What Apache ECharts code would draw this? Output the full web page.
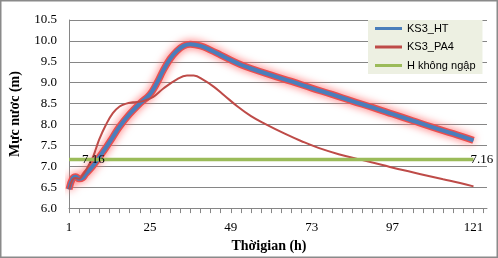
<!DOCTYPE html>
<html>
<head>
<meta charset="utf-8">
<script src="https://cdn.jsdelivr.net/npm/echarts@6/dist/echarts.min.js"></script>
<style>
  html, body { margin: 0; padding: 0; background: #fff; }
  #main { width: 498px; height: 258px; }
</style>
</head>
<body>
<div id="main"></div>
<script>
// hours on the x axis (categories 1..125)
const hours = [];
for (let h = 1; h <= 125; h++) hours.push(String(h));

// KS3_HT readings: [hour, water level]
const htHours = [1, 2, 3, 4, 5, 6, 8, 10, 12, 14, 16, 19, 22, 25, 27, 29, 31, 33, 35, 37, 40, 43, 46, 49, 52, 55, 61, 67, 73, 79, 85, 91, 97, 103, 109, 115, 121];
const htLevel = [6.45, 6.7, 6.75, 6.7, 6.72, 6.82, 7.0, 7.22, 7.45, 7.7, 7.95, 8.25, 8.5, 8.72, 8.98, 9.3, 9.57, 9.76, 9.88, 9.92, 9.88, 9.78, 9.66, 9.54, 9.43, 9.34, 9.18, 9.03, 8.87, 8.72, 8.56, 8.41, 8.25, 8.09, 7.93, 7.78, 7.62];

// KS3_PA4 readings
const paHours = [1, 2, 3, 4, 5, 6, 7, 8, 9, 10, 12, 14, 16, 18, 20, 23, 26, 29, 33, 36, 38, 41, 44, 47, 51, 55, 59, 65, 70, 75, 81, 88, 94, 100, 106, 112, 117, 121];
const paLevel = [6.45, 6.68, 6.72, 6.7, 6.78, 6.9, 7.05, 7.2, 7.42, 7.65, 8.0, 8.27, 8.43, 8.5, 8.53, 8.56, 8.66, 8.86, 9.08, 9.17, 9.17, 9.06, 8.9, 8.7, 8.43, 8.2, 8.02, 7.78, 7.6, 7.44, 7.29, 7.15, 7.03, 6.91, 6.8, 6.69, 6.6, 6.52];

// H không ngập
const hHours = [1, 121];
const hLevel = [7.16, 7.16];

const pairs = (xs, ys) => xs.map((x, i) => [String(x), ys[i]]);

const serif = 'Liberation Serif';
const gray = '#868686';

// label of the flat line: one at each end
const hData = pairs(hHours, hLevel).map((v, i) => ({
  value: v,
  label: { distance: i === 0 ? 13 : -3 },
}));

const myChart = echarts.init(document.getElementById('main'));

const option = {
  animation: false,
  graphic: [{
    type: 'rect',
    shape: { x: 0.75, y: 0.75, width: 496.5, height: 256.5 },
    style: { fill: 'none', stroke: '#8a8a8a', lineWidth: 1.5 },
  }],
  grid: { left: 67, right: 11, top: 20, bottom: 38 },
  legend: {
    orient: 'vertical',
    left: 368,
    top: 20,
    padding: [3, 7, 3, 7],
    itemGap: 7.5,
    itemWidth: 27,
    itemHeight: 3,
    itemTextGap: 3,
    icon: 'rect',
    backgroundColor: '#edf0e2',
    textStyle: { fontFamily: 'Liberation Sans', fontSize: 11, color: '#000' },
    data: ['KS3_HT', 'KS3_PA4', 'H không ngập'],
  },
  xAxis: {
    type: 'category',
    data: hours,
    boundaryGap: false,
    name: 'Thờigian (h)',
    nameLocation: 'middle',
    nameGap: 24,
    nameTextStyle: { fontFamily: serif, fontSize: 14, fontWeight: 'bold', color: '#000', padding: [0, 18, 0, 0] },
    axisLine: { lineStyle: { color: gray } },
    axisTick: { interval: 2, length: 5, lineStyle: { color: gray } },
    axisLabel: { interval: 23, margin: 13, fontFamily: serif, fontSize: 13, color: '#000' },
    splitLine: { show: false },
  },
  yAxis: {
    type: 'value',
    min: 6,
    max: 10.5,
    interval: 0.5,
    name: 'Mực nươc (m)',
    nameLocation: 'middle',
    nameGap: 47,
    nameTextStyle: { fontFamily: serif, fontSize: 14, fontWeight: 'bold', color: '#000' },
    axisLine: { show: true, lineStyle: { color: gray } },
    axisTick: { show: false },
    axisLabel: { margin: 12, fontFamily: serif, fontSize: 13, color: '#000', formatter: (v) => v.toFixed(1) },
    splitLine: { lineStyle: { color: gray } },
  },
  series: [
    {
      // red glow under the KS3_HT line
      name: 'KS3_HT glow',
      type: 'line',
      data: pairs(htHours, htLevel),
      smooth: 0.4,
      symbol: 'none',
      silent: true,
      lineStyle: { width: 7, color: '#e94f4f', shadowColor: 'rgba(255,110,110,1)', shadowBlur: 9 },
    },
    {
      name: 'KS3_HT',
      type: 'line',
      data: pairs(htHours, htLevel),
      smooth: 0.4,
      symbol: 'none',
      itemStyle: { color: '#4a7ebb' },
      lineStyle: { width: 4, color: '#4a7ebb' },
    },
    {
      name: 'KS3_PA4',
      type: 'line',
      data: pairs(paHours, paLevel),
      smooth: 0.4,
      symbol: 'none',
      itemStyle: { color: '#be4b48' },
      lineStyle: { width: 2, color: '#be4b48' },
    },
    {
      name: 'H không ngập',
      type: 'line',
      data: hData,
      symbol: 'circle',
      symbolSize: 0,
      itemStyle: { color: '#9bbb59' },
      lineStyle: { width: 3.5, color: '#9bbb59' },
      label: {
        show: true,
        position: 'right',
        fontFamily: serif,
        fontSize: 13,
        color: '#000',
        formatter: (p) => p.value[1].toFixed(2),
      },
      labelLayout: { hideOverlap: false },
      emphasis: { disabled: true },
    },
  ],
};

myChart.setOption(option);
</script>
</body>
</html>
